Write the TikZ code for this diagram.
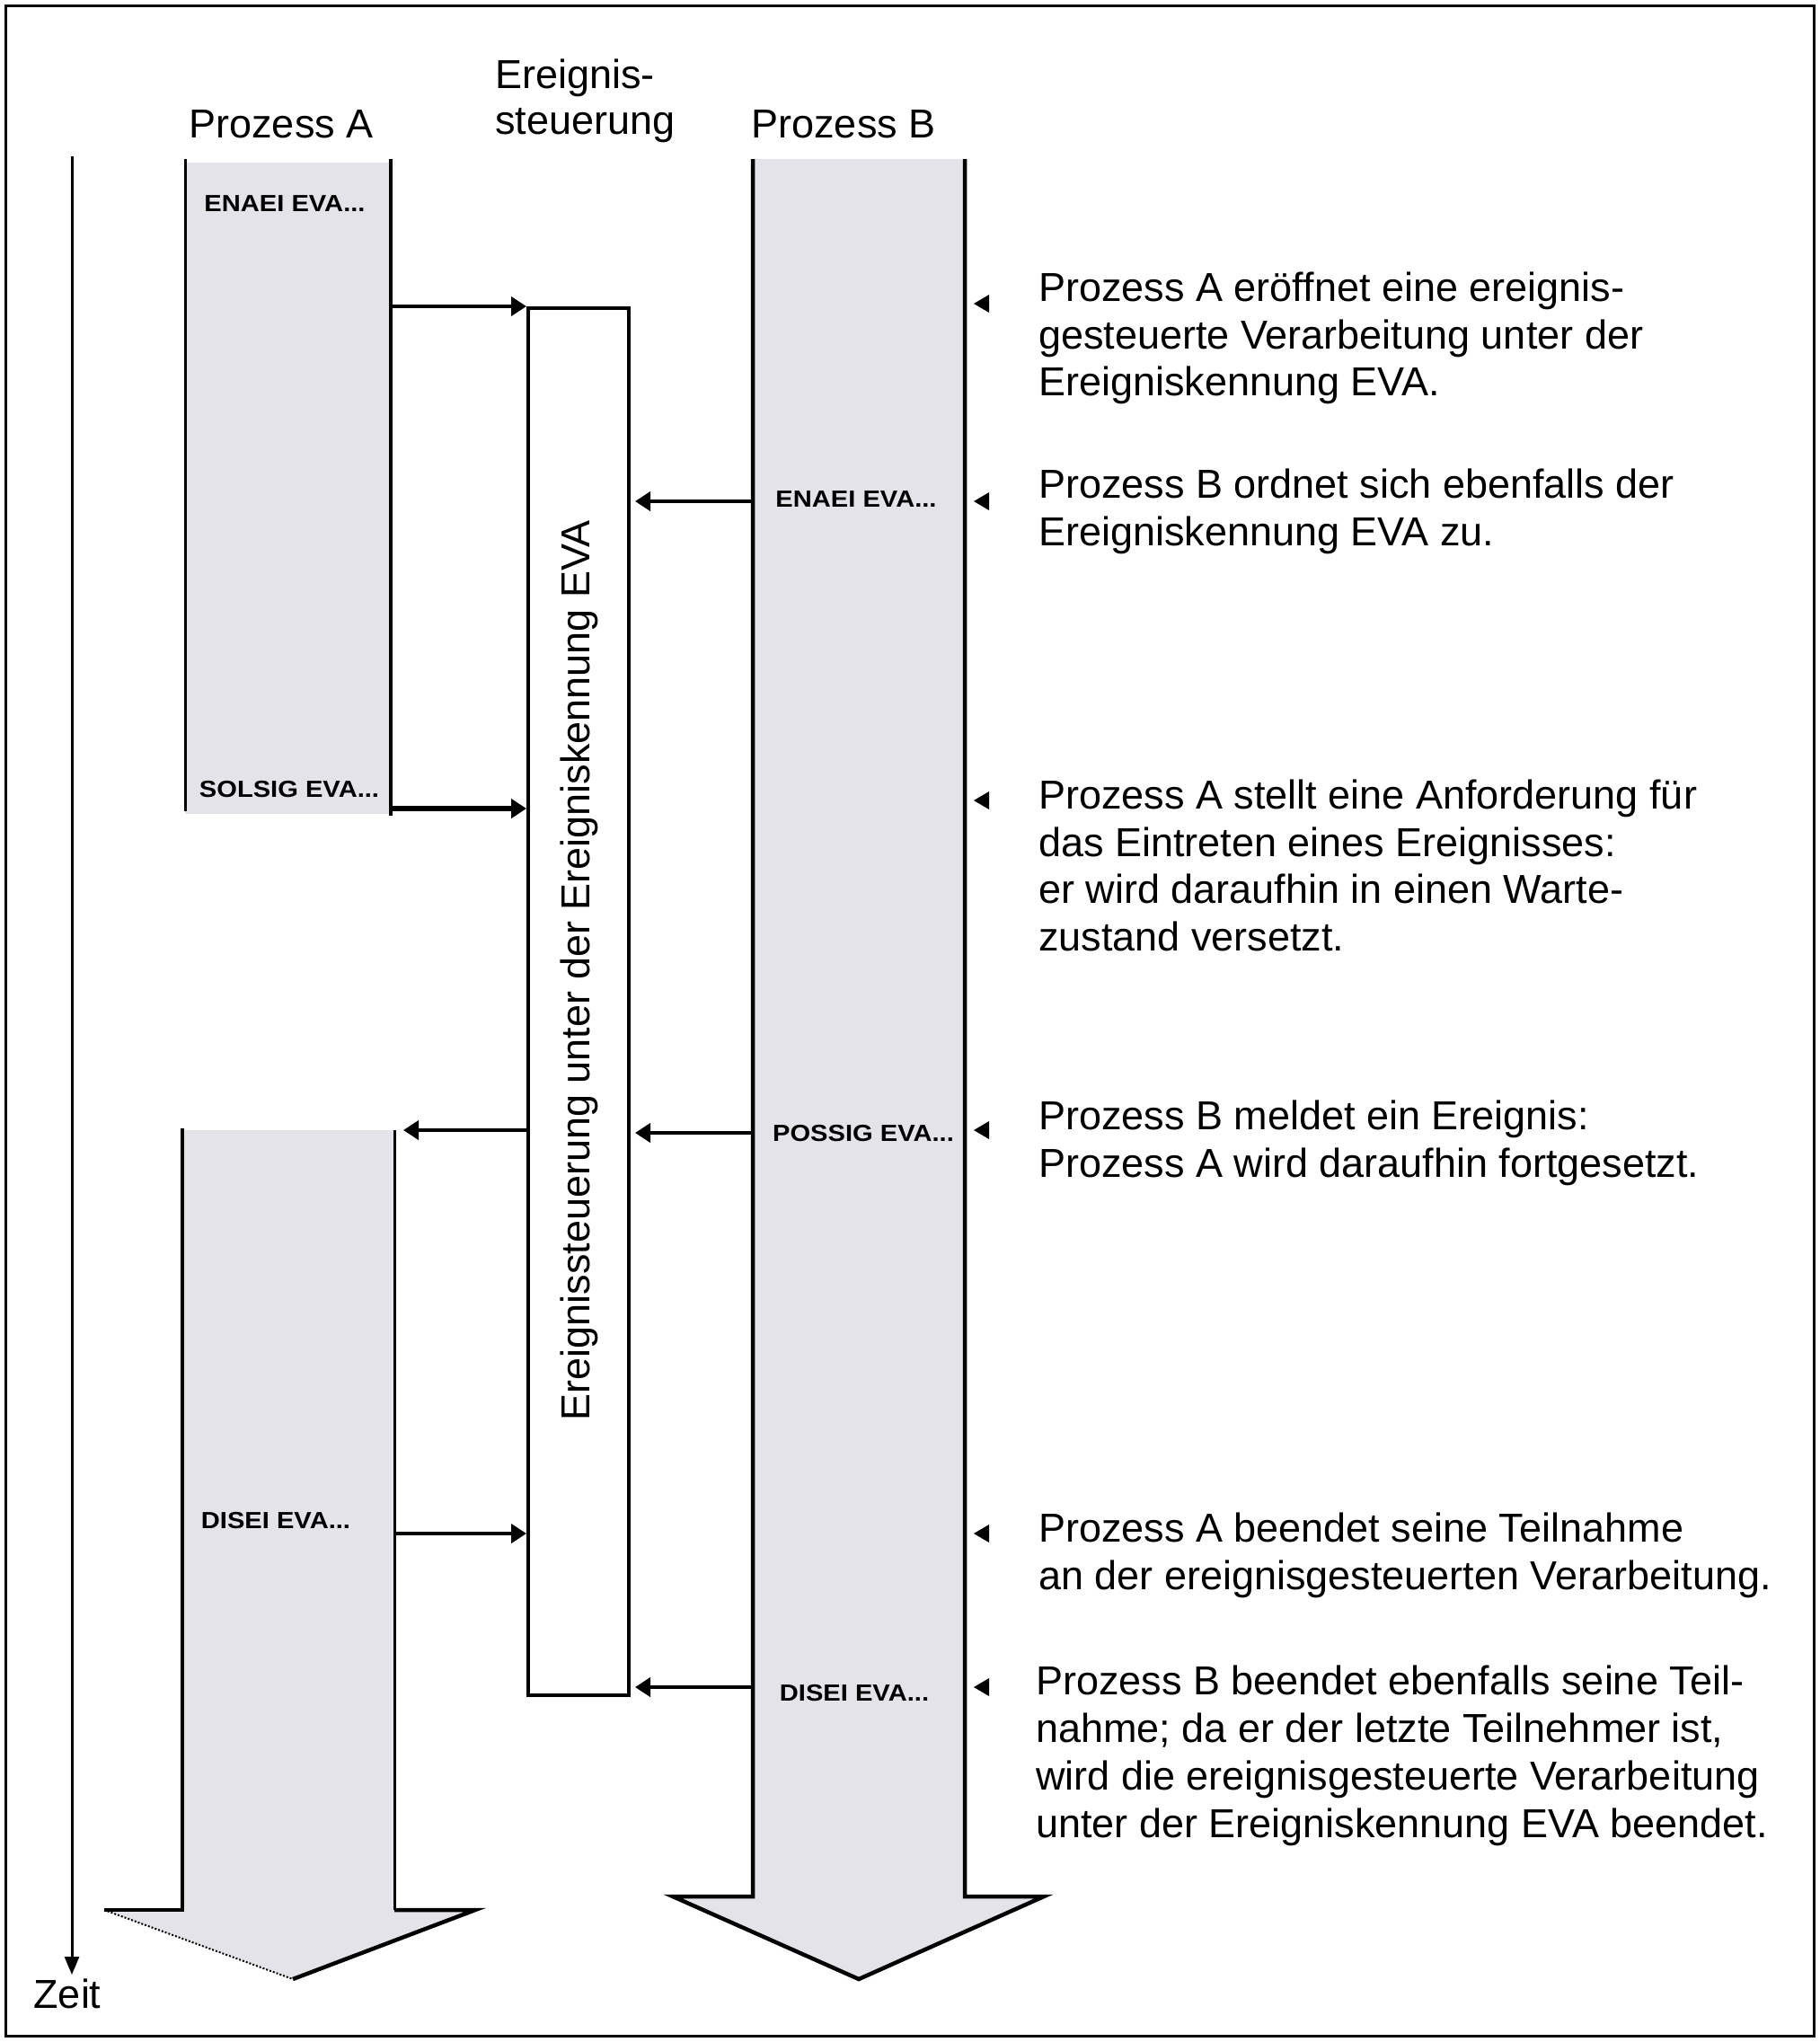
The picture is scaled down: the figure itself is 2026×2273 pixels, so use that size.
\documentclass[tikz,border=0pt]{standalone}
\usepackage{fontspec}
\setmainfont{Liberation Sans}
\newfontfamily\lblfont[FakeStretch=1.12]{Liberation Sans}
\usetikzlibrary{arrows.meta}
\definecolor{procgray}{RGB}{228,227,233}
\begin{document}
\begin{tikzpicture}[x=1pt,y=-1pt,
  txt/.style={font=\fontsize{45}{52.5}\selectfont, inner sep=0pt},
  lbl/.style={font=\lblfont\bfseries\fontsize{26}{30}\selectfont, inner sep=0pt},
  conn/.style={line width=4pt, -{Triangle[length=17pt,width=21pt]}},
  thickline/.style={line width=4.5pt},
  thinline/.style={line width=3pt}]
\useasboundingbox (0,0) rectangle (2026,2273);
\draw[line width=3pt] (6,6) rectangle (2019,2266);

% Process A, first part
\fill[procgray] (206,181) rectangle (435,906);
\draw[thinline] (206,177) -- (206,903);
\draw[thickline] (435,177) -- (435,908);

% Process A, second part
\fill[procgray] (203,1258) -- (203,2126) -- (116,2126) -- (326,2203) -- (529,2126) -- (439,2126) -- (439,1258) -- cycle;
\draw[thickline] (203,1256) -- (203,2126) -- (116,2126);
\draw[thinline] (439,1258) -- (439,2126);
\draw[thickline] (439,2126) -- (529,2126) -- (326,2203);
\draw[line width=2pt, dotted] (116,2126) -- (326,2203);

% Process B
\fill[procgray] (838,177) -- (838,2111) -- (749,2111) -- (956,2203) -- (1162,2111) -- (1074,2111) -- (1074,177) -- cycle;
\draw[thickline] (838,177) -- (838,2111) -- (749,2111) -- (956,2203) -- (1162,2111) -- (1074,2111) -- (1074,177);

% Time axis
\coordinate (t0) at (80,174);
\coordinate (t1) at (80,2198);
\draw[thinline, -{Triangle[length=20pt,width=16pt]}] (t0) -- (t1);
\node[txt, anchor=base] (zeit) at (75,2235) {Zeit};

% Headers
\node[txt, anchor=base] (hA) at (313,153) {Prozess A};
\node[txt, anchor=north west, align=left, font=\fontsize{45}{51}\selectfont] (hE) at (551,66) {Ereignis-\\steuerung};
\node[txt, anchor=base] (hB) at (939,153) {Prozess B};

% Event control box
\node[draw, line width=4pt, minimum width=112pt, minimum height=1544pt, inner sep=0pt] (es) at (644,1115) {};
\node[txt, rotate=90] (estext) at (645,1080) {Ereignissteuerung unter der Ereigniskennung EVA};

% Labels
\node[lbl] (l1) at (317,227) {ENAEI EVA...};
\node[lbl] (l2) at (322,879) {SOLSIG EVA...};
\node[lbl] (l3) at (953,556) {ENAEI EVA...};
\node[lbl] (l4) at (961,1262) {POSSIG EVA...};
\node[lbl] (l5) at (307,1693) {DISEI EVA...};
\node[lbl] (l6) at (951,1885) {DISEI EVA...};

% Connectors
\coordinate (aOpen) at (435,341);
\draw[conn] (aOpen) -- (aOpen -| es.west);
\coordinate (bOpen) at (838,558);
\draw[conn, shorten >=5pt] (bOpen) -- (bOpen -| es.east);
\coordinate (aWait) at (435,900);
\draw[conn, line width=6pt] (aWait) -- (aWait -| es.west);
\coordinate (aCont) at (449,1258);
\draw[conn] (es.west |- aCont) -- (aCont);
\coordinate (bSig) at (838,1261);
\draw[conn, shorten >=5pt] (bSig) -- (bSig -| es.east);
\coordinate (aEnd) at (439,1707);
\draw[conn] (aEnd) -- (aEnd -| es.west);
\coordinate (bEnd) at (838,1878);
\draw[conn, shorten >=5pt] (bEnd) -- (bEnd -| es.east);

% Markers
\foreach \yy in {338,558,891,1258,1707,1878}
  \fill (1084,\yy) -- ++(17,-10) -- ++(0,20) -- cycle;

% Descriptions
\node[txt, anchor=north west, align=left] (d1) at (1156,303) {Prozess A eröffnet eine ereignis-\\gesteuerte Verarbeitung unter der\\Ereigniskennung EVA.};
\node[txt, anchor=north west, align=left] (d2) at (1156,522) {Prozess B ordnet sich ebenfalls der\\Ereigniskennung EVA zu.};
\node[txt, anchor=north west, align=left] (d3) at (1156,868) {Prozess A stellt eine Anforderung für\\das Eintreten eines Ereignisses:\\er wird daraufhin in einen Warte-\\zustand versetzt.};
\node[txt, anchor=north west, align=left] (d4) at (1156,1225) {Prozess B meldet ein Ereignis:\\Prozess A wird daraufhin fortgesetzt.};
\node[txt, anchor=north west, align=left] (d5) at (1156,1684) {Prozess A beendet seine Teilnahme\\an der ereignisgesteuerten Verarbeitung.};
\node[txt, anchor=north west, align=left, font=\fontsize{45}{53}\selectfont] (d6) at (1153,1854) {Prozess B beendet ebenfalls seine Teil-\\nahme; da er der letzte Teilnehmer ist,\\wird die ereignisgesteuerte Verarbeitung\\unter der Ereigniskennung EVA beendet.};
\end{tikzpicture}
\end{document}
